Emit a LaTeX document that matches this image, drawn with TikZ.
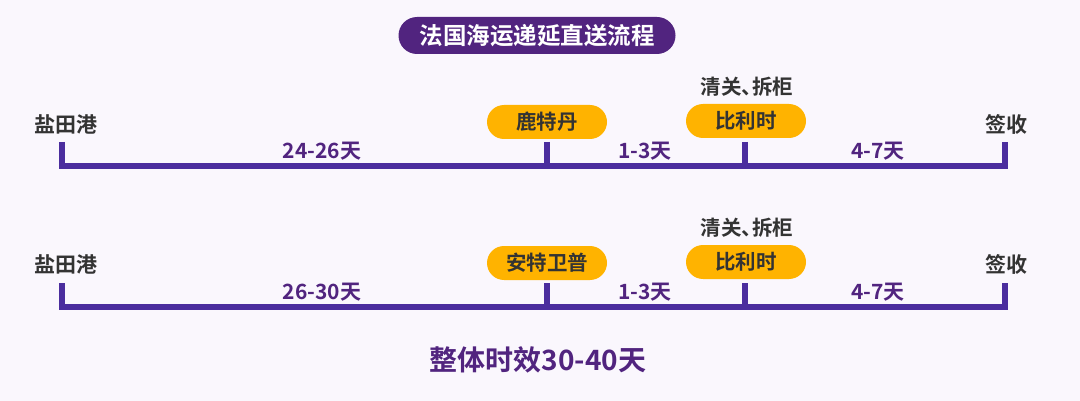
\documentclass[tikz,border=0pt]{standalone}
\usepackage{fontspec}
\newfontfamily\cjk{Noto Sans CJK SC}[BoldFont={Noto Sans CJK SC Bold}]
\definecolor{bg}{HTML}{FAF7FD}
\definecolor{tl}{HTML}{4B2D9E}
\definecolor{pur}{HTML}{51247F}
\definecolor{amber}{HTML}{FFB300}
\definecolor{dark}{HTML}{333333}
\tikzset{
  pill/.style={rounded corners=17pt,fill=amber,minimum width=120pt,minimum height=34pt,inner sep=0pt,font=\cjk\bfseries\fontsize{20.5}{20.5}\selectfont,text=dark},
  place/.style={font=\cjk\bfseries\fontsize{21}{21}\selectfont,text=dark,inner sep=0pt},
  dur/.style={font=\cjk\bfseries\fontsize{21}{21}\selectfont,text=pur,inner sep=0pt},
  tline/.style={draw=tl,line width=5.5pt},
}
\begin{document}
\begin{tikzpicture}[x=1pt,y=-1pt]
\fill[bg] (0,0) rectangle (1080,401);
\useasboundingbox (0,0) rectangle (1080,401);
\node[fill=pur,rounded corners=18.5pt,minimum width=277pt,minimum height=37pt,inner sep=0pt,text=white,font=\cjk\bfseries\fontsize{23.5}{23.5}\selectfont] (title) at (537,35.5) {法国海运递延直送流程};
% timeline 1
\coordinate (a1) at (62,142);
\coordinate (b1) at (547,142);
\coordinate (c1) at (745,142);
\coordinate (d1) at (1005,142);
\coordinate (a1b) at (62,166);
\coordinate (b1b) at (547,166);
\coordinate (c1b) at (745,166);
\coordinate (d1b) at (1005,166);
\draw[tline] (a1) -- (a1b) -- (d1b) -- (d1);
\draw[tline] (b1) -- (b1b);
\draw[tline] (c1) -- (c1b);
\node[place] (s1) at (66,124) {盐田港};
\node[place] (e1) at (1006,124) {签收};
\node[pill] (p1) at (547,122) {鹿特丹};
\node[pill] (q1) at (746,121) {比利时};
\node[place,font=\cjk\bfseries\fontsize{20.5}{20.5}\selectfont] (r1) at (747,87) {清关、\kern-0.5em拆柜};
\node[dur] (t1) at (322,151) {24-26天};
\node[dur] (u1) at (645,151) {1-3天};
\node[dur] (v1) at (878,151) {4-7天};
% timeline 2
\coordinate (a2) at (62,283);
\coordinate (b2) at (547,283);
\coordinate (c2) at (745,283);
\coordinate (d2) at (1005,283);
\coordinate (a2b) at (62,307);
\coordinate (b2b) at (547,307);
\coordinate (c2b) at (745,307);
\coordinate (d2b) at (1005,307);
\draw[tline] (a2) -- (a2b) -- (d2b) -- (d2);
\draw[tline] (b2) -- (b2b);
\draw[tline] (c2) -- (c2b);
\node[place] (s2) at (66,264) {盐田港};
\node[place] (e2) at (1006,264) {签收};
\node[pill] (p2) at (547,263) {安特卫普};
\node[pill] (q2) at (746,262) {比利时};
\node[place,font=\cjk\bfseries\fontsize{20.5}{20.5}\selectfont] (r2) at (747,228) {清关、\kern-0.5em拆柜};
\node[dur] (t2) at (322,292) {26-30天};
\node[dur] (u2) at (645,292) {1-3天};
\node[dur] (v2) at (878,292) {4-7天};
\node[font=\cjk\bfseries\fontsize{28}{28}\selectfont,text=pur,inner sep=0pt] (total) at (538,360) {整体时效30-40天};
\end{tikzpicture}
\end{document}
